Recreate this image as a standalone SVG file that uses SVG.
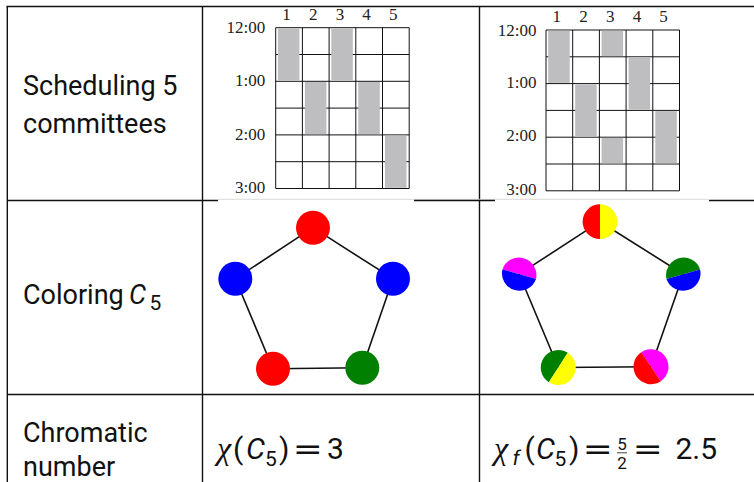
<svg xmlns="http://www.w3.org/2000/svg" width="754" height="482" viewBox="0 0 754 482">
<style>
.tl{stroke:#111;stroke-width:1.4;fill:none}
.lbl{font-family:Roboto,"Liberation Sans",sans-serif;font-size:27px;fill:#111}
.gl{stroke:#111;stroke-width:1;fill:none}
.bar{fill:#bebec1}
.tm{font-family:"Liberation Serif",serif;font-size:17px;fill:#222;text-anchor:end}
.hd{font-family:"Liberation Serif",serif;font-size:17px;fill:#222;text-anchor:middle}
.edge{stroke:#111;stroke-width:1.6}
.m{font-family:Roboto,"Liberation Sans",sans-serif;font-size:30px;fill:#111}
.eq{font-family:"DejaVu Sans",sans-serif;font-size:30px;fill:#111}
.it{font-style:italic}
.chi{font-family:"Liberation Serif",serif;font-style:italic;font-size:32px;fill:#111}
.sub{font-family:Roboto,"Liberation Sans",sans-serif;font-size:21px;fill:#111}
.frac{font-family:Roboto,"Liberation Sans",sans-serif;font-size:17px;fill:#111;text-anchor:middle}
</style>
<g id="table">
<line class="tl" x1="6.6" y1="6.5" x2="754" y2="6.5"/>
<line class="tl" x1="7.3" y1="6" x2="7.3" y2="482"/>
<line class="tl" x1="202.5" y1="6" x2="202.5" y2="482"/>
<line class="tl" x1="479.5" y1="6" x2="479.5" y2="482"/>
<line x1="218" y1="199.3" x2="709" y2="199.3" stroke="#dadada" stroke-width="1"/>
<path class="tl" d="M7 200.5H218M414 200.5H495M709 200.5H754"/>
<line class="tl" x1="7" y1="394.5" x2="754" y2="394.5"/>
</g>
<g id="row-labels">
<text class="lbl" x="23" y="95">Scheduling 5</text>
<text class="lbl" x="23" y="133">committees</text>
<text class="lbl" x="23" y="304">Coloring</text>
<text class="lbl it" x="129" y="304" font-size="28">C</text>
<text class="sub" x="149.5" y="309.5">5</text>
<text class="lbl" x="23" y="442">Chromatic</text>
<text class="lbl" x="23" y="476">number</text>
</g>
<g id="schedule1" transform="translate(275.7 27.7)">
<path class="gl" d="M0 0V160.8M26.7 0V160.8M53.4 0V160.8M80.1 0V160.8M106.8 0V160.8M133.5 0V160.8M0 0H133.5M0 26.8H133.5M0 53.6H133.5M0 80.4H133.5M0 107.2H133.5M0 134H133.5M0 160.8H133.5"/>
<rect class="bar" x="2.2" y="0.7" width="21.5" height="52.2"/>
<rect class="bar" x="55.6" y="0.7" width="21.5" height="52.2"/>
<rect class="bar" x="29.2" y="54.3" width="21.5" height="52.2"/>
<rect class="bar" x="82.6" y="54.3" width="21.5" height="52.2"/>
<rect class="bar" x="109.3" y="107.9" width="21.5" height="52.2"/>
<text class="hd" x="10.8" y="-7.5">1</text>
<text class="hd" x="37.5" y="-7.5">2</text>
<text class="hd" x="64.2" y="-7.5">3</text>
<text class="hd" x="90.9" y="-7.5">4</text>
<text class="hd" x="117.6" y="-7.5">5</text>
<text class="tm" x="-10.5" y="5.5">12:00</text>
<text class="tm" x="-10.5" y="58.6">1:00</text>
<text class="tm" x="-10.5" y="112">2:00</text>
<text class="tm" x="-10.5" y="165.5">3:00</text>
</g>
<g id="schedule2" transform="translate(546 30)">
<path class="gl" d="M0 0V160.8M26.7 0V160.8M53.4 0V160.8M80.1 0V160.8M106.8 0V160.8M133.5 0V160.8M0 0H133.5M0 26.8H133.5M0 53.6H133.5M0 80.4H133.5M0 107.2H133.5M0 134H133.5M0 160.8H133.5"/>
<rect class="bar" x="2.2" y="0.7" width="21.5" height="52.2"/>
<rect class="bar" x="29.2" y="54.3" width="21.5" height="52.2"/>
<rect class="bar" x="55.6" y="0.7" width="21.5" height="25.4"/>
<rect class="bar" x="55.6" y="107.9" width="21.5" height="25.4"/>
<rect class="bar" x="82.6" y="27.5" width="21.5" height="52.2"/>
<rect class="bar" x="109.3" y="81.1" width="21.5" height="52.2"/>
<text class="hd" x="10.8" y="-8">1</text>
<text class="hd" x="37.5" y="-8">2</text>
<text class="hd" x="64.2" y="-8">3</text>
<text class="hd" x="90.9" y="-8">4</text>
<text class="hd" x="117.6" y="-8">5</text>
<text class="tm" x="-9.5" y="6">12:00</text>
<text class="tm" x="-9.5" y="57.5">1:00</text>
<text class="tm" x="-9.5" y="111">2:00</text>
<text class="tm" x="-9.5" y="165">3:00</text>
</g>
<g id="graph1">
<g id="edges1">
<line class="edge" x1="313" y1="227.7" x2="235.3" y2="278.7"/>
<line class="edge" x1="313" y1="227.7" x2="393" y2="278.7"/>
<line class="edge" x1="235.3" y1="278.7" x2="273" y2="368.7"/>
<line class="edge" x1="393" y1="278.7" x2="362.3" y2="367.7"/>
<line class="edge" x1="273" y1="368.7" x2="362.3" y2="367.7"/>
</g>
<g id="g1-top"><circle cx="313" cy="227.7" r="17" fill="#ff0000"/></g>
<g id="g1-left"><circle cx="235.3" cy="278.7" r="17" fill="#0000ff"/></g>
<g id="g1-right"><circle cx="393" cy="278.7" r="17" fill="#0000ff"/></g>
<g id="g1-bl"><circle cx="273" cy="368.7" r="17" fill="#ff0000"/></g>
<g id="g1-br"><circle cx="362.3" cy="367.7" r="17" fill="#008000"/></g>
</g>
<g id="graph2">
<g id="edges2">
<line class="edge" x1="600" y1="221.7" x2="519.2" y2="274.2"/>
<line class="edge" x1="600" y1="221.7" x2="683.3" y2="274.2"/>
<line class="edge" x1="519.2" y1="274.2" x2="558.3" y2="367.5"/>
<line class="edge" x1="683.3" y1="274.2" x2="651" y2="366.7"/>
<line class="edge" x1="558.3" y1="367.5" x2="651" y2="366.7"/>
</g>
<g id="g2-top">
<path d="M600 204.3A17.4 17.4 0 0 1 600 239.1Z" fill="#ffff00"/>
<path d="M600 204.3A17.4 17.4 0 0 0 600 239.1Z" fill="#ff0000"/>
</g>
<g id="g2-left">
<path d="M502.4 269.4A17.5 17.5 0 0 1 536 279Z" fill="#ff00ff"/>
<path d="M502.4 269.4A17.5 17.5 0 0 0 536 279Z" fill="#0000ff"/>
</g>
<g id="g2-right">
<path d="M666.5 279A17.5 17.5 0 0 1 700.1 269.4Z" fill="#008000"/>
<path d="M666.5 279A17.5 17.5 0 0 0 700.1 269.4Z" fill="#0000ff"/>
</g>
<g id="g2-bl">
<path d="M548.8 382.2A17.5 17.5 0 0 1 567.8 352.8Z" fill="#008000"/>
<path d="M548.8 382.2A17.5 17.5 0 0 0 567.8 352.8Z" fill="#ffff00"/>
</g>
<g id="g2-br">
<path d="M641.2 352.2A17.5 17.5 0 0 1 660.8 381.2Z" fill="#ff00ff"/>
<path d="M641.2 352.2A17.5 17.5 0 0 0 660.8 381.2Z" fill="#ff0000"/>
</g>
</g>
<g id="math1">
<text class="chi" x="217" y="459">χ</text>
<text class="m" x="233" y="459">(</text>
<text class="m it" x="246" y="459">C</text>
<text class="sub" x="265" y="466">5</text>
<text class="m" x="279" y="459">)</text>
<text class="eq" x="292.8" y="459" textLength="30" lengthAdjust="spacingAndGlyphs">=</text>
<text class="m" x="327" y="459">3</text>
</g>
<g id="math2">
<text class="chi" x="494" y="459">χ</text>
<text class="sub it" x="512.5" y="465">f</text>
<text class="m" x="524.5" y="459">(</text>
<text class="m it" x="536" y="459">C</text>
<text class="sub" x="554.5" y="466">5</text>
<text class="m" x="569" y="459">)</text>
<text class="eq" x="582.8" y="459" textLength="30" lengthAdjust="spacingAndGlyphs">=</text>
<text class="frac" x="622" y="449.5">5</text>
<line x1="617" y1="452.8" x2="627" y2="452.8" stroke="#111" stroke-width="0.8"/>
<text class="frac" x="622" y="468.5">2</text>
<text class="eq" x="632.8" y="459" textLength="30" lengthAdjust="spacingAndGlyphs">=</text>
<text class="m" x="675.5" y="459" font-size="29">2.5</text>
</g>
</svg>
